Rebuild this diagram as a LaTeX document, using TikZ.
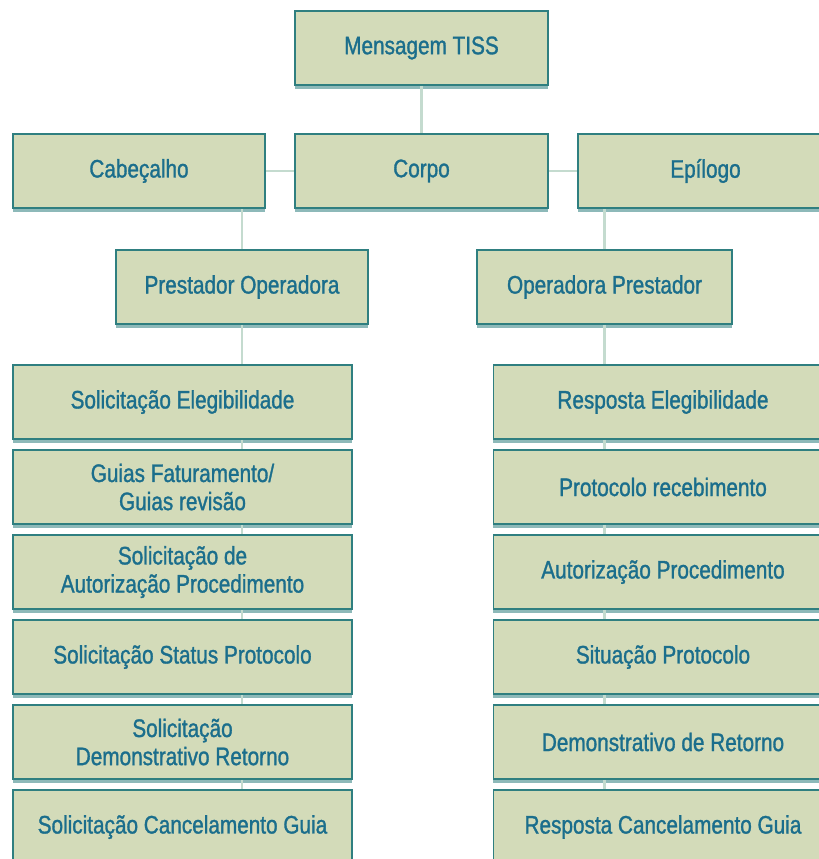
\documentclass[tikz,border=0pt]{standalone}
\usepackage{fontspec}
\setmainfont[FakeStretch=0.82, FakeBold=1.2]{Liberation Sans}
\usetikzlibrary{shadows}
\definecolor{boxfill}{HTML}{D3DBB9}
\definecolor{boxline}{HTML}{2F7F80}
\definecolor{boxtext}{HTML}{1B6E8C}
\definecolor{wirecol}{HTML}{C4DBCF}

\begin{document}
\begin{tikzpicture}[x=0.025cm, y=-0.025cm,
    tissbox/.style={draw=boxline, line width=1.2pt, fill=boxfill, text=boxtext,
      align=center, inner sep=0pt, minimum height=1.85cm,
      font=\fontsize{18pt}{20pt}\selectfont,
      drop shadow={shadow xshift=0pt, shadow yshift=-2.5pt, fill=boxline, opacity=.55}},
    colbox/.style={tissbox, minimum width=8.48cm},
    wire/.style={draw=wirecol, line width=2pt}]
      \useasboundingbox (0, 0) rectangle (819, 859);
      \clip (0, 0) rectangle (819, 859);

      \node[tissbox, minimum width=6.33cm] (msg) at (421.5, 48) {Mensagem TISS};
      \node[tissbox, minimum width=6.3cm] (cab) at (139, 171) {Cabeçalho};
      \node[tissbox, minimum width=6.33cm] (corpo) at (421.5, 171) {Corpo};
      \node[tissbox, minimum width=6.38cm] (epi) at (705.5, 171) {Epílogo};

      \node[tissbox, minimum width=6.3cm] (prest) at (242, 287) {Prestador Operadora};
      \node[tissbox, minimum width=6.38cm] (oper) at (604.5, 287) {Operadora Prestador};

      \foreach \txt [count=\i] in {Solicitação Elegibilidade, {Guias Faturamento/\\Guias revisão},
          {Solicitação de\\Autorização Procedimento}, Solicitação Status Protocolo,
          {Solicitação\\Demonstrativo Retorno}, Solicitação Cancelamento Guia}
        \node[colbox] (l\i) at (182.5, 317+85*\i) {\txt};
      \foreach \txt [count=\i] in {Resposta Elegibilidade, Protocolo recebimento,
          Autorização Procedimento, Situação Protocolo,
          Demonstrativo de Retorno, Resposta Cancelamento Guia}
        \node[colbox] (r\i) at (663, 317+85*\i) {\txt};

      \draw[wire] (msg) -- (corpo);
      \draw[wire] (cab) -- (corpo);
      \draw[wire] (corpo) -- (epi);
      \draw[wire] (prest.north) -- (prest.north |- cab.south);
      \draw[wire] (oper.north) -- (oper.north |- epi.south);
      \draw[wire] (prest.south) -- (prest.south |- l1.north);
      \draw[wire] (oper.south) -- (oper.south |- r1.north);
      \foreach \i/\j in {1/2, 2/3, 3/4, 4/5, 5/6} {
        \draw[wire] (l\i.south -| prest) -- (l\j.north -| prest);
        \draw[wire] (r\i.south -| oper) -- (r\j.north -| oper);
      }
\end{tikzpicture}
\end{document}
